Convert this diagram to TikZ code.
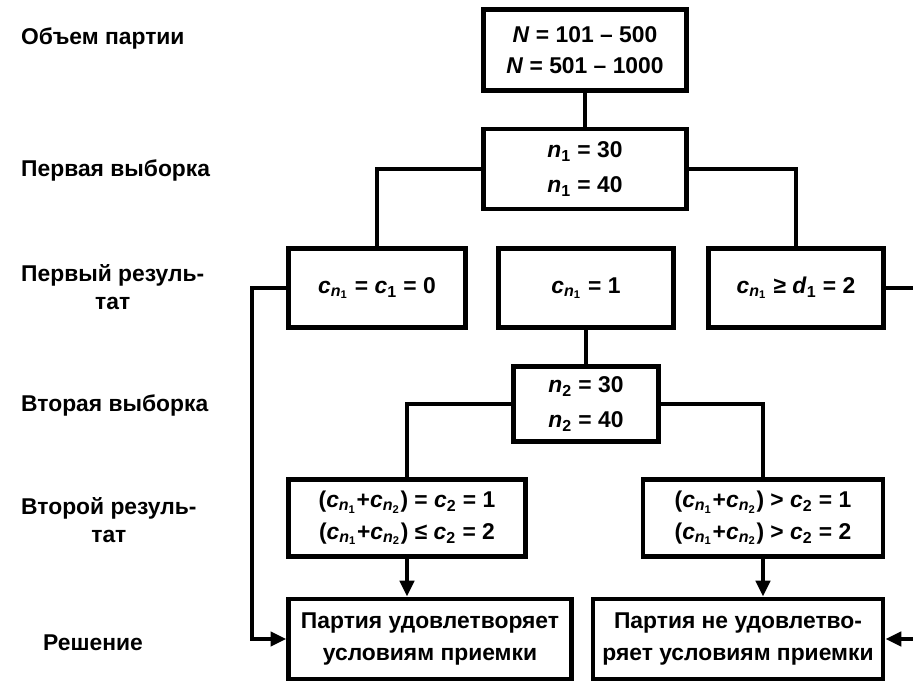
\documentclass[tikz,border=0pt]{standalone}
\usepackage{fontspec}
\setmainfont{Liberation Sans}
\usetikzlibrary{arrows.meta}
\newcommand{\sub}[2]{\textit{#1}\textsubscript{#2}}
\tikzset{
  box/.style={draw, line width=2.8pt, inner sep=1pt, align=center,
    font=\bfseries\fontsize{13}{18}\selectfont},
  lbl/.style={anchor=west, align=center, font=\bfseries\fontsize{13}{16}\selectfont},
  con/.style={line width=2.2pt},
  arr/.style={con, -{Triangle[length=9pt,width=8pt]}}
}
\begin{document}
\begin{tikzpicture}[x=0.02cm,y=-0.02cm]
    \useasboundingbox (0,0) rectangle (913,682);
    % left column
    \node[lbl] (lot) at (15,38) {Объем партии};
    \node[lbl] (first) at (15,170) {Первая выборка};
    \node[lbl] (res1) at (15,287) {Первый резуль-\\тат};
    \node[lbl] (second) at (15,405) {Вторая выборка};
    \node[lbl] (res2) at (15,520) {Второй резуль-\\тат};
    \node[lbl] (dec) at (37,643) {Решение};
    % boxes
    \node[box, minimum width=4.05cm, minimum height=1.63cm] (top) at (585,50)
      {\textit{N} = 101 – 500\\\textit{N} = 501 – 1000};
    \node[box, minimum width=4.05cm, minimum height=1.6cm] (n1) at (585,169)
      {\sub{n}{1} = 30\\[2pt]\sub{n}{1} = 40};
    \node[box, minimum width=3.55cm, minimum height=1.57cm] (r1a) at (377,288)
      {\sub{c}{\sub{n}{1}} = \sub{c}{1} = 0};
    \node[box, minimum width=3.5cm, minimum height=1.57cm] (r1b) at (586,288)
      {\sub{c}{\sub{n}{1}} = 1};
    \node[box, minimum width=3.5cm, minimum height=1.57cm] (r1c) at (796,288)
      {\sub{c}{\sub{n}{1}} ≥ \sub{d}{1} = 2};
    \node[box, minimum width=2.9cm, minimum height=1.5cm] (n2) at (586,404)
      {\sub{n}{2} = 30\\[2pt]\sub{n}{2} = 40};
    \node[box, minimum width=4.75cm, minimum height=1.55cm] (r2a) at (407,518)
      {(\sub{c}{\sub{n}{1}}+\sub{c}{\sub{n}{2}}) = \sub{c}{2} = 1\\
       (\sub{c}{\sub{n}{1}}+\sub{c}{\sub{n}{2}}) ≤ \sub{c}{2} = 2};
    \node[box, minimum width=4.8cm, minimum height=1.55cm] (r2b) at (763,518)
      {(\sub{c}{\sub{n}{1}}+\sub{c}{\sub{n}{2}}) > \sub{c}{2} = 1\\
       (\sub{c}{\sub{n}{1}}+\sub{c}{\sub{n}{2}}) > \sub{c}{2} = 2};
    \node[box, minimum width=5.65cm, minimum height=1.6cm] (d1) at (430,639)
      {Партия удовлетворяет\\условиям приемки};
    \node[box, minimum width=5.8cm, minimum height=1.6cm] (d2) at (738,639)
      {Партия не удовлетво-\\ряет условиям приемки};
    % connectors
    \draw[con] (top) -- (n1);
    \draw[con] (n1.west) -| (r1a.north);
    \draw[con] (n1.east) -| (r1c.north);
    \draw[con] (r1b) -- (n2);
    \draw[con] (n2.west) -| (r2a.north);
    \draw[con] (n2.east) -| (r2b.north);
    \draw[arr] (r2a.south) -- (r2a.south |- d1.north);
    \draw[arr] (r2b.south) -- (r2b.south |- d2.north);
    \coordinate (rail) at (252,0);
    \draw[arr] (r1a.west) -- (rail |- r1a.west) |- (d1.west);
    \coordinate (edge1) at (913,288);
    \coordinate (edge2) at (913,639);
    \draw[con] (r1c.east) -- (edge1);
    \draw[arr] (edge2) -- (d2.east);
\end{tikzpicture}
\end{document}
